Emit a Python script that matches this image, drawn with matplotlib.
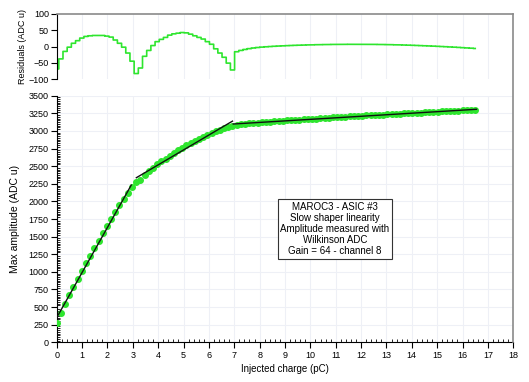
import numpy as np
import matplotlib
matplotlib.use("Agg")
import matplotlib.pyplot as plt
from matplotlib.ticker import MultipleLocator
from matplotlib.lines import Line2D

# ── DATA ───────────────────────────────────────────────────────────────────────
CHARGE = [
    0.0, 0.165, 0.33, 0.495, 0.66, 0.825, 0.99, 1.155, 1.32, 1.485,
    1.65, 1.815, 1.98, 2.145, 2.31, 2.475, 2.64, 2.805, 2.97, 3.135,
    3.3, 3.465, 3.63, 3.795, 3.96, 4.125, 4.29, 4.455, 4.62, 4.785,
    4.95, 5.115, 5.28, 5.445, 5.61, 5.775, 5.94, 6.105, 6.27, 6.435,
    6.6, 6.765, 6.93, 7.095, 7.26, 7.425, 7.59, 7.755, 7.92, 8.085,
    8.25, 8.415, 8.58, 8.745, 8.91, 9.075, 9.24, 9.405, 9.57, 9.735,
    9.9, 10.065, 10.23, 10.395, 10.56, 10.725, 10.89, 11.055, 11.22, 11.385,
    11.55, 11.715, 11.88, 12.045, 12.21, 12.375, 12.54, 12.705, 12.87, 13.035,
    13.2, 13.365, 13.53, 13.695, 13.86, 14.025, 14.19, 14.355, 14.52, 14.685,
    14.85, 15.015, 15.18, 15.345, 15.51, 15.675, 15.84, 16.005, 16.17, 16.335,
    16.5,
]
AMPLITUDE = [
    268, 418, 546, 665, 782, 896, 1010, 1120, 1228, 1334,
    1440, 1546, 1649, 1752, 1848, 1944, 2038, 2125, 2206, 2273,
    2304, 2375, 2428, 2478, 2525, 2567, 2608, 2650, 2689, 2726,
    2763, 2797, 2828, 2858, 2888, 2918, 2945, 2972, 2993, 3015,
    3037, 3054, 3068, 3085, 3094, 3100, 3107, 3112, 3118, 3123,
    3127, 3132, 3135, 3140, 3144, 3148, 3152, 3156, 3160, 3164,
    3168, 3172, 3175, 3180, 3184, 3187, 3191, 3194, 3198, 3202,
    3205, 3209, 3212, 3216, 3220, 3222, 3226, 3229, 3232, 3236,
    3239, 3242, 3245, 3248, 3252, 3254, 3258, 3260, 3264, 3267,
    3270, 3273, 3276, 3279, 3283, 3285, 3289, 3291, 3294, 3298,
    3300,
]
RESIDUALS = [
    -69, -38, -15, -2, 10, 18, 26, 31, 33, 34,
    34, 34, 32, 29, 20, 10, -2, -20, -45, -83,
    -66, -30, -12, 3, 15, 22, 28, 35, 39, 41,
    43, 42, 38, 33, 28, 23, 15, 7, -7, -20,
    -33, -51, -72, -16, -12, -9, -6.5, -4.5, -3, -1.8,
    -0.8, 0, 0.8, 1.5, 2.1, 2.7, 3.2, 3.7, 4.1, 4.5,
    4.9, 5.2, 5.5, 5.8, 6.0, 6.2, 6.4, 6.5, 6.6, 6.7,
    6.8, 6.8, 6.8, 6.8, 6.7, 6.6, 6.5, 6.3, 6.1, 5.9,
    5.6, 5.3, 5.0, 4.6, 4.2, 3.8, 3.3, 2.8, 2.3, 1.8,
    1.2, 0.6, 0, -0.6, -1.3, -2.0, -2.7, -3.5, -4.3, -5.1,
    -6.0,
]
# piecewise linear fits (end points)
FIT1_X, FIT1_Y = [0.0, 2.94], [350, 2232]
FIT2_X, FIT2_Y = [3.14, 6.93], [2336, 3139]
FIT3_X, FIT3_Y = [6.96, 16.55], [3098, 3307]

INFO = ("MAROC3 - ASIC #3\nSlow shaper linearity\nAmplitude measured with\n"
        "Wilkinson ADC\nGain = 64 - channel 8")

GREEN = "#2ee52e"
GRID = "#eef0f6"
FRAME = "#8a8a8a"

plt.rcParams['font.family'] = ['Liberation Sans', 'DejaVu Sans']

# ── FIGURE ─────────────────────────────────────────────────────────────────────
fig = plt.figure(figsize=(5.29, 3.82), dpi=100)
ax_res = fig.add_axes([0.1072, 0.793, 0.8631, 0.1704])
ax = fig.add_axes([0.1072, 0.1039, 0.8631, 0.6456])

# residuals
ax_res.plot(CHARGE, RESIDUALS, color=GREEN, lw=1.2, drawstyle='steps-mid',
            snap=False)
ax_res.set_xlim(0, 18)
ax_res.set_ylim(-100, 100)
ax_res.set_yticks([-100, -50, 0, 50, 100])
ax_res.xaxis.set_major_locator(MultipleLocator(1))
ax_res.tick_params(axis='x', length=0, labelbottom=False)
ax_res.tick_params(axis='y', labelsize=6.5, length=4, width=0.8, pad=1.5)
ax_res.grid(axis='x', color=GRID, lw=0.8)
ax_res.spines['bottom'].set_visible(False)
ax_res.spines['top'].set_color(FRAME)
ax_res.spines['top'].set_linewidth(1.2)
ax_res.spines['right'].set_visible(False)
ax_res.set_ylabel('Residuals (ADC u)', fontsize=6.5, labelpad=1)

# main plot
ax.plot(CHARGE, AMPLITUDE, linestyle='none', marker='o', ms=4,
        mfc=GREEN, mec=GREEN, zorder=3)
for fx, fy in ((FIT1_X, FIT1_Y), (FIT2_X, FIT2_Y), (FIT3_X, FIT3_Y)):
    ax.plot(fx, fy, color='#111111', lw=1.0, zorder=4)

ax.set_xlim(0, 18)
ax.set_ylim(0, 3500)
ax.xaxis.set_major_locator(MultipleLocator(1))
ax.xaxis.set_minor_locator(MultipleLocator(0.2))
ax.yaxis.set_major_locator(MultipleLocator(250))
ax.yaxis.set_minor_locator(MultipleLocator(25))
ax.tick_params(which='major', labelsize=6.5, length=4, width=0.8,
               direction='out', pad=2)
ax.tick_params(which='minor', length=2.5, width=0.6, direction='in')
ax.grid(which='major', color=GRID, lw=0.8, zorder=0)
ax.spines['top'].set_visible(False)
ax.spines['right'].set_visible(False)
ax.set_xlabel('Injected charge (pC)', fontsize=7, labelpad=3)
ax.set_ylabel('Max amplitude (ADC u)', fontsize=7.5, labelpad=6)

ax.text(10.97, 1608, INFO, ha='center', va='center', fontsize=7,
        linespacing=1.15,
        bbox=dict(boxstyle='square,pad=0.25', fc='white', ec='#333333', lw=0.8))

# continuous right frame line
fig.add_artist(Line2D([0.9703, 0.9703], [0.1039, 0.9634], color=FRAME,
                      lw=1.2, transform=fig.transFigure))

fig.savefig("out.png", dpi=100)
